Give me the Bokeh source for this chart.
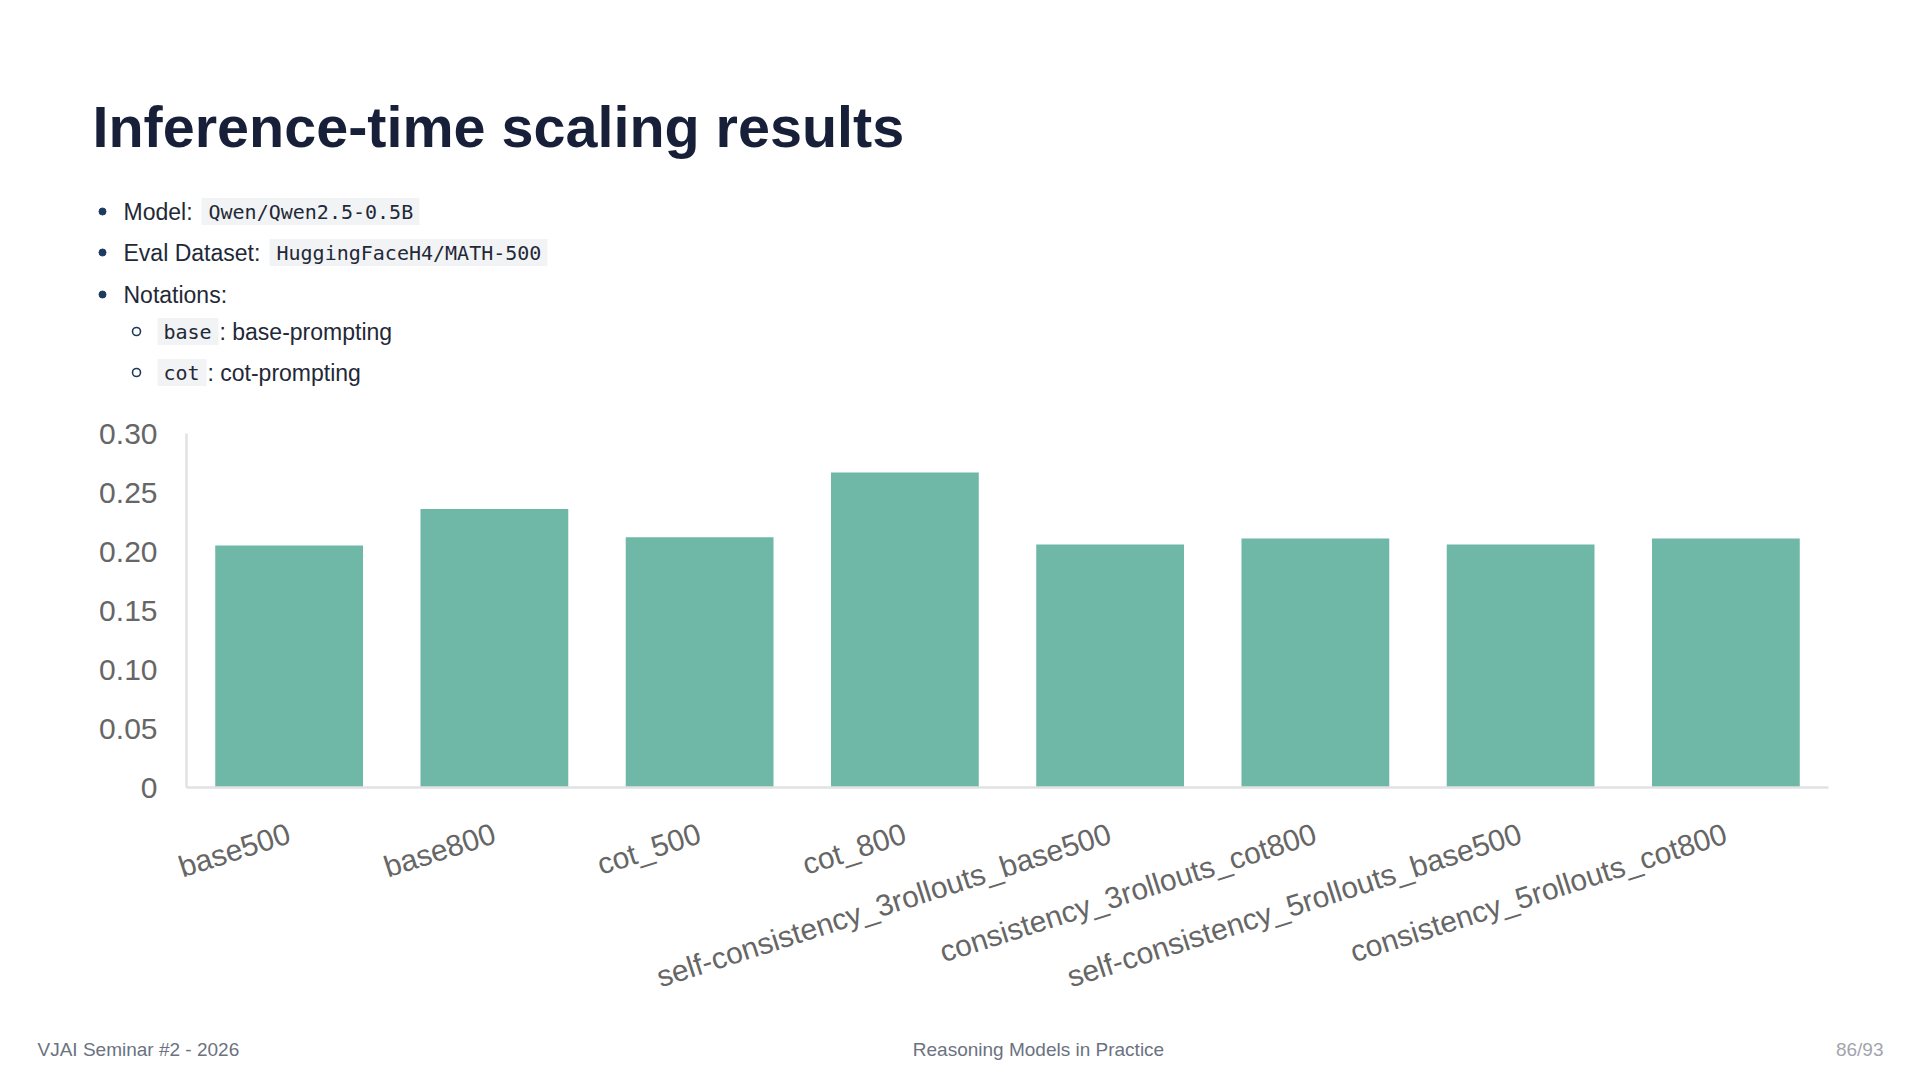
from bokeh.plotting import figure
from bokeh.layouts import column
from bokeh.models import FixedTicker, NumeralTickFormatter, Range1d
from bokeh.core.properties import value
from bokeh.embed import file_html
from bokeh.resources import INLINE

# ---- data ----
categories = ["base500", "base800", "cot_500", "cot_800",
              "self-consistency_3rollouts_base500", "consistency_3rollouts_cot800",
              "self-consistency_5rollouts_base500", "consistency_5rollouts_cot800"]
accuracy = [0.205, 0.236, 0.212, 0.267, 0.206, 0.211, 0.206, 0.211]
y_ticks = [0, 0.05, 0.10, 0.15, 0.20, 0.25, 0.30]

title_text = "Inference-time scaling results"
bullet_labels = ["Model:", "Eval Dataset:", "Notations:"]
bullet_codes = ["Qwen/Qwen2.5-0.5B", "HuggingFaceH4/MATH-500", None]
sub_codes = ["base", "cot"]
sub_texts = [": base-prompting", ": cot-prompting"]
footer_left = "VJAI Seminar #2 - 2026"
footer_center = "Reasoning Models in Practice"
footer_right = "86/93"

W = 1920
HEAD_H, CHART_H, FOOT_H = 400, 620, 60

SANS = "Liberation Sans"
MONO = "DejaVu Sans Mono"
TXT = "#1f2937"
BUL = "#1e3a5f"
CHIP = "#f2f3f5"


def no_align(f):
    if "frame_align" in f.properties():
        f.frame_align = False


def blank(height):
    f = figure(width=W, height=height, x_range=Range1d(0, W), y_range=Range1d(height, 0),
               output_backend="svg", toolbar_location=None,
               x_axis_type=None, y_axis_type=None, min_border=0)
    f.outline_line_color = None
    f.xgrid.grid_line_color = None
    f.ygrid.grid_line_color = None
    no_align(f)
    return f


def txt(f, x, y, s, size, color=TXT, font=SANS, align="left", style="normal",
        baseline="middle"):
    f.text(x=[x], y=[y], text=[s], text_font=value(font),
           text_font_size=value(f"{size}px"), text_color=color,
           text_align=align, text_baseline=baseline, text_font_style=style)


def chip(f, x0, x1, yc, h=27):
    f.quad(left=[x0], right=[x1], top=[yc - h / 2], bottom=[yc + h / 2],
           fill_color=CHIP, line_color=None)


# ---------- header ----------
head = blank(HEAD_H)
txt(head, 92, 126, title_text, 57.5, color="#172038", style="bold")

rows_y = [211, 252, 294]
code_x = [208, 276]
for i, (lab, code) in enumerate(zip(bullet_labels, bullet_codes)):
    y = rows_y[i]
    head.scatter(x=[102], y=[y], size=7, marker="circle", color=BUL)
    txt(head, 123, y, lab, 23)
    if code is not None:
        cx = code_x[i]
        w = 12.0 * len(code)
        chip(head, cx - 7, cx + w + 7, y)
        txt(head, cx, y, code, 20, font=MONO)

sub_y = [331, 372]
for y, code, t in zip(sub_y, sub_codes, sub_texts):
    head.scatter(x=[136], y=[y], size=8, marker="circle", fill_color=None,
                 line_color=BUL, line_width=1.6)
    w = 12.0 * len(code)
    chip(head, 157, 163 + w + 7, y)
    txt(head, 163, y, code, 20, font=MONO)
    txt(head, 163 + w + 8, y, t, 23)

# ---------- chart ----------
FRAME_TOP = 433 - HEAD_H
FRAME_BOTTOM = 787 - HEAD_H
p = figure(x_range=categories, y_range=(0, 0.30), width=W, height=CHART_H,
           output_backend="svg", toolbar_location=None,
           min_border_left=186, min_border_right=W - 1828,
           min_border_top=FRAME_TOP, min_border_bottom=CHART_H - FRAME_BOTTOM)
p.outline_line_color = None
p.xgrid.grid_line_color = None
p.ygrid.grid_line_color = None
no_align(p)

p.vbar(x=categories, top=accuracy, width=0.72, color="#6fb7a7", line_color=None)

for ax in (p.xaxis, p.yaxis):
    ax.axis_line_color = "#e2e2e2"
    ax.axis_line_width = 2.5
    ax.major_tick_line_color = None
    ax.minor_tick_line_color = None
    ax.major_label_text_font = SANS
    ax.major_label_text_font_size = "30px"
    ax.major_label_text_color = "#666666"

p.yaxis.ticker = FixedTicker(ticks=y_ticks)
p.yaxis.formatter = NumeralTickFormatter(format="0.00")
p.yaxis.major_label_overrides = {0: "0"}
p.yaxis.major_label_standoff = 23
p.xaxis.major_label_orientation = 0.31
p.xaxis.major_label_standoff = 39

# ---------- footer ----------
foot = blank(FOOT_H)
txt(foot, 37, 29, footer_left, 19, color="#6b7280")
txt(foot, 1038, 29, footer_center, 19, color="#6b7280", align="center")
txt(foot, 1883, 29, footer_right, 19, color="#a1a5ad", align="right")

page = column(head, p, foot, spacing=0)
open("out.html", "w").write(file_html(page, INLINE))
